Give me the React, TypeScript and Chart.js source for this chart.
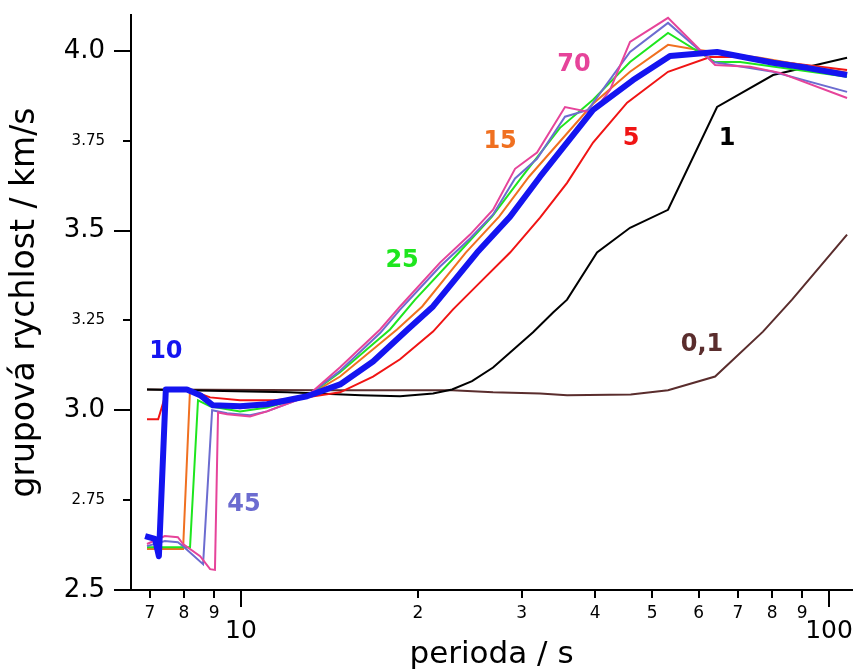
import { useEffect, useRef } from 'react';
import { Chart, registerables } from 'chart.js';

Chart.register(...registerables);

const FONT = "'DejaVu Sans', 'Liberation Sans', sans-serif";

// Axis ticks
const xTickValues = [7, 8, 9, 10, 20, 30, 40, 50, 60, 70, 80, 90, 100];
const xMajorTicks = [10, 100];
const yTickValues = [2.5, 2.75, 3.0, 3.25, 3.5, 3.75, 4.0];

// Series: period (s) and group velocity (km/s)
const periods10 = [6.87, 7.14, 7.25, 7.45, 8.09, 8.52, 8.96, 9.96, 11.07, 12.95, 14.74, 16.77, 19.2, 21.21, 25.2, 28.68, 32.25, 39.69, 46.42, 53.65, 64.5, 80.31, 91.74, 107.3];
const vel10 = [2.65, 2.642, 2.594, 3.058, 3.058, 3.042, 3.014, 3.011, 3.017, 3.039, 3.072, 3.136, 3.225, 3.289, 3.439, 3.539, 3.65, 3.836, 3.919, 3.986, 3.997, 3.967, 3.953, 3.933];

const periods5 = [6.92, 7.23, 7.48, 8.3, 8.86, 9.96, 11.34, 12.95, 14.74, 16.77, 18.64, 21.21, 22.94, 25.5, 28.68, 32.25, 35.85, 39.69, 45.35, 53.23, 62.76, 70.58, 107.3];
const vel5 = [2.975, 2.975, 3.055, 3.053, 3.036, 3.028, 3.028, 3.036, 3.05, 3.094, 3.142, 3.219, 3.281, 3.356, 3.439, 3.536, 3.633, 3.745, 3.856, 3.942, 3.983, 3.983, 3.947];

const periods15 = [6.92, 7.97, 8.19, 8.52, 8.96, 9.96, 11.07, 12.95, 14.74, 18.42, 20.33, 24.11, 27.47, 30.88, 39.69, 45.87, 53.23, 59.64, 76.33, 107.3];
const vel15 = [2.614, 2.614, 3.058, 3.042, 3.017, 3.006, 3.014, 3.039, 3.094, 3.225, 3.289, 3.439, 3.539, 3.65, 3.853, 3.942, 4.017, 4.003, 3.981, 3.939];

const periods25 = [6.92, 8.19, 8.45, 8.86, 9.96, 11.07, 12.95, 14.74, 17.92, 19.77, 23.48, 26.72, 30.06, 34.87, 39.69, 45.87, 53.23, 64.0, 70.58, 107.3];
const vel25 = [2.619, 2.619, 3.028, 3.011, 2.997, 3.008, 3.039, 3.106, 3.225, 3.308, 3.439, 3.539, 3.65, 3.786, 3.864, 3.969, 4.05, 3.969, 3.969, 3.928];

const periods45 = [6.92, 7.42, 7.81, 7.97, 8.62, 8.93, 9.47, 10.36, 11.07, 12.95, 14.74, 17.24, 18.64, 21.8, 24.52, 26.83, 29.24, 31.87, 35.56, 38.92, 45.87, 53.23, 63.5, 80.31, 107.3];
const vel45 = [2.622, 2.636, 2.633, 2.622, 2.572, 3.0, 2.992, 2.986, 2.997, 3.039, 3.11, 3.215, 3.28, 3.4, 3.478, 3.545, 3.645, 3.7, 3.817, 3.836, 3.997, 4.078, 3.969, 3.942, 3.886];

const periods70 = [6.92, 7.42, 7.81, 7.97, 8.52, 8.86, 9.03, 9.14, 9.47, 10.36, 11.07, 12.95, 14.74, 17.24, 18.64, 21.8, 24.52, 26.83, 29.24, 31.87, 35.56, 39.6, 42.43, 45.87, 53.23, 64.0, 73.4, 82.54, 107.3];
const vel70 = [2.628, 2.65, 2.647, 2.628, 2.594, 2.558, 2.556, 2.994, 2.989, 2.983, 2.997, 3.039, 3.12, 3.225, 3.289, 3.411, 3.489, 3.558, 3.672, 3.717, 3.844, 3.828, 3.892, 4.025, 4.092, 3.961, 3.956, 3.939, 3.869];

const periods1 = [6.92, 12.0, 16.0, 18.64, 21.21, 22.85, 24.71, 26.83, 28.68, 31.38, 33.94, 35.85, 40.31, 45.87, 53.23, 64.5, 80.31, 107.3];
const vel1 = [3.058, 3.05, 3.042, 3.039, 3.047, 3.058, 3.081, 3.119, 3.161, 3.217, 3.272, 3.308, 3.439, 3.508, 3.558, 3.844, 3.933, 3.981];

const periods01 = [6.92, 14.0, 22.85, 26.83, 32.25, 35.85, 46.0, 53.23, 64.0, 77.2, 86.5, 107.3];
const vel01 = [3.058, 3.056, 3.056, 3.05, 3.047, 3.042, 3.044, 3.056, 3.094, 3.219, 3.308, 3.489];

// Curve annotations
const labelTexts = ['10', '45', '25', '15', '70', '5', '1', '0,1'];
const labelPeriods = [7.45, 10.12, 18.79, 27.58, 36.84, 46.05, 67.07, 60.8];
const labelVelocities = [3.164, 2.736, 3.417, 3.747, 3.961, 3.756, 3.756, 3.183];
const labelColors = ['#1414f0', '#6c6cd0', '#1ee61e', '#f07020', '#e6449a', '#f01414', '#000000', '#5a2d2d'];

const toPoints = (xs: number[], ys: number[]) => xs.map((x, i) => ({ x, y: ys[i] }));

const isMajorY = (v: number) => Math.abs(v * 2 - Math.round(v * 2)) < 1e-6;

const tickMarksPlugin = {
  id: 'tickMarks',
  afterDraw(chart: any) {
    const { ctx, scales } = chart;
    const xs = scales.x;
    const ys = scales.y;
    ctx.save();
    ctx.strokeStyle = '#000';
    ctx.lineWidth = 2;
    ctx.beginPath();
    xs.ticks.forEach((t: any) => {
      const px = Math.round(xs.getPixelForValue(t.value));
      const len = xMajorTicks.includes(t.value) ? 17 : 8;
      ctx.moveTo(px, xs.top);
      ctx.lineTo(px, xs.top + len);
    });
    ys.ticks.forEach((t: any) => {
      const py = Math.round(ys.getPixelForValue(t.value));
      const len = isMajorY(t.value) ? 17 : 8;
      ctx.moveTo(ys.right - len, py);
      ctx.lineTo(ys.right, py);
    });
    ctx.stroke();
    ctx.restore();
  },
};

const curveLabelsPlugin = {
  id: 'curveLabels',
  afterDatasetsDraw(chart: any) {
    const { ctx, scales } = chart;
    ctx.save();
    ctx.font = `bold 24px ${FONT}`;
    ctx.textAlign = 'center';
    ctx.textBaseline = 'middle';
    labelTexts.forEach((t, i) => {
      ctx.fillStyle = labelColors[i];
      ctx.fillText(t, scales.x.getPixelForValue(labelPeriods[i]), scales.y.getPixelForValue(labelVelocities[i]));
    });
    ctx.restore();
  },
};

export default function App() {
  const ref = useRef<HTMLCanvasElement | null>(null);

  useEffect(() => {
    if (!ref.current) return;
    const thin = (label: string, color: string, xs: number[], ys: number[]) => ({
      label,
      data: toPoints(xs, ys),
      borderColor: color,
      backgroundColor: color,
      borderWidth: 2,
      pointRadius: 0,
      tension: 0,
      fill: false,
    });
    const chart = new Chart(ref.current, {
      type: 'line',
      data: {
        datasets: [
          {
            label: '10',
            data: toPoints(periods10, vel10),
            borderColor: '#1414f0',
            backgroundColor: '#1414f0',
            borderWidth: 6,
            borderJoinStyle: 'round',
            pointRadius: 0,
            tension: 0,
            fill: false,
          },
          thin('70', '#e6449a', periods70, vel70),
          thin('45', '#6c6cd0', periods45, vel45),
          thin('25', '#1ee61e', periods25, vel25),
          thin('15', '#f07020', periods15, vel15),
          thin('5', '#f01414', periods5, vel5),
          thin('1', '#000000', periods1, vel1),
          thin('0,1', '#5a2d2d', periods01, vel01),
        ] as any,
      },
      options: {
        animation: false,
        responsive: false,
        maintainAspectRatio: false,
        layout: { padding: { top: 15, right: 4, bottom: 0, left: 0 } },
        plugins: { legend: { display: false }, tooltip: { enabled: false } },
        elements: { line: { borderCapStyle: 'butt' } },
        scales: {
          x: {
            type: 'logarithmic',
            min: 6.5,
            max: 109.4,
            afterBuildTicks: (axis: any) => {
              axis.ticks = xTickValues.map((v) => ({ value: v }));
            },
            afterFit: (axis: any) => {
              axis.height = 80;
              axis.paddingLeft = 0;
              axis.paddingRight = 0;
              axis.paddingTop = 0;
              axis.paddingBottom = 0;
            },
            grid: { display: false, drawTicks: false },
            border: { display: true, color: '#000', width: 2 },
            ticks: {
              autoSkip: false,
              maxRotation: 0,
              minRotation: 0,
              padding: 13.5,
              color: '#000',
              callback: (v: any) => {
                const n = Number(v);
                return n >= 20 && n < 100 ? String(n / 10) : String(n);
              },
              font: (c: any) => {
                const v = c.tick ? c.tick.value : 0;
                return xMajorTicks.includes(v)
                  ? { family: FONT, size: 25, lineHeight: 2.25 }
                  : { family: FONT, size: 17, lineHeight: 1.2 };
              },
            },
            title: {
              display: true,
              text: 'perioda / s',
              color: '#000',
              font: { family: FONT, size: 31, lineHeight: 1.0 },
              padding: { top: 0, bottom: 0 },
            },
          },
          y: {
            type: 'linear',
            min: 2.5,
            max: 4.1,
            afterBuildTicks: (axis: any) => {
              axis.ticks = yTickValues.map((v) => ({ value: v }));
            },
            afterFit: (axis: any) => {
              axis.width = 131;
              axis.paddingLeft = 0;
              axis.paddingRight = 0;
              axis.paddingTop = 0;
              axis.paddingBottom = 0;
            },
            grid: { display: false, drawTicks: false },
            border: { display: true, color: '#000', width: 2 },
            ticks: {
              autoSkip: false,
              padding: 26,
              color: '#000',
              callback: (v: any) => {
                const n = Number(v);
                return isMajorY(n) ? n.toFixed(1) : n.toFixed(2);
              },
              font: (c: any) => {
                const v = c.tick ? c.tick.value : 0;
                return isMajorY(v)
                  ? { family: FONT, size: 26, lineHeight: 1.2 }
                  : { family: FONT, size: 15, lineHeight: 1.2 };
              },
            },
            title: {
              display: true,
              text: 'grupová rychlost / km/s',
              color: '#000',
              font: { family: FONT, size: 33, lineHeight: 1.2 },
              padding: { top: 6, bottom: 0 },
            },
          },
        },
      } as any,
      plugins: [tickMarksPlugin, curveLabelsPlugin],
    });
    return () => chart.destroy();
  }, []);

  return (
    <div style={{ position: 'absolute', left: 0, top: 0, width: 856, height: 670, background: '#fff' }}>
      <canvas ref={ref} width={856} height={670} />
    </div>
  );
}
